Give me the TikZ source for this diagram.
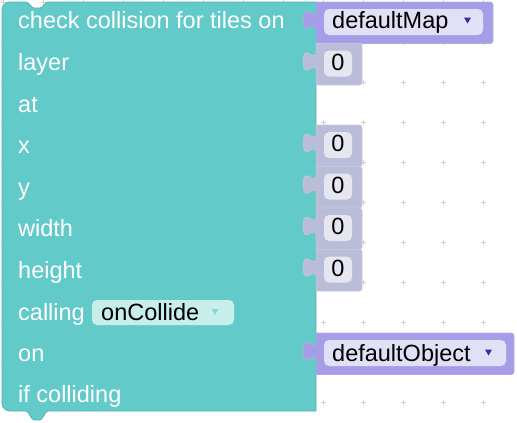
\documentclass[tikz,border=0pt]{standalone}
\usepackage{fontspec}
\setmainfont{Liberation Sans}
\usetikzlibrary{positioning}
\definecolor{colorblock}      {RGB}{99,202,202}
\definecolor{colorblockedge}  {RGB}{84,178,178}
\definecolor{colorblockfield} {RGB}{200,238,236}
\definecolor{colorblockarrow} {RGB}{140,214,214}
\definecolor{colorobject}     {RGB}{165,158,230}
\definecolor{colorobjectfield}{RGB}{226,224,247}
\definecolor{colorobjectarrow}{RGB}{55,40,170}
\definecolor{colornumber}     {RGB}{186,189,215}
\definecolor{colornumberfield}{RGB}{229,230,240}
\definecolor{colorgrid}       {RGB}{208,208,208}

\begin{document}
\begin{tikzpicture}[
    x=1pt, y=-1pt,
    font={\fontsize{23.5}{28}\selectfont},
    label/.style={text=white,anchor=base west,inner sep=0pt},
    value/.style={text=black,anchor=base west,inner sep=0pt},
    number/.style={text=black,anchor=base,inner sep=0pt},
    field/.style={rounded corners=5pt},
    plus/.style={draw=colorgrid,line width=1pt},
]
    \useasboundingbox (0,0) rectangle (517,423);

    % Workspace grid
    \foreach \gx in {3,43,...,483}
        \foreach \gy in {2,42,...,402}
            \draw[plus] (\gx-2.5,\gy) -- (\gx+2.5,\gy) (\gx,\gy-2.5) -- (\gx,\gy+2.5);

    % Main block
    \filldraw[fill=colorblock,draw=colorblockedge,line width=0.8pt]
        (2,10) arc (180:270:8) -- (26,2) .. controls (29,2) and (31,8) .. (34,8) -- (40,8)
        .. controls (43,8) and (45,2) .. (48,2) -- (316,2) -- (316,411) -- (48,411)
        .. controls (45,411) and (43,420) .. (40,420) -- (34,420)
        .. controls (31,420) and (29,411) .. (26,411) -- (10,411) arc (90:180:8) -- cycle;

    % Input blocks
    \foreach \t/\r/\c in {2/493/colorobject, 43.5/362/colornumber, 125/362/colornumber,
                          166.5/362/colornumber, 208/362/colornumber, 249.5/362/colornumber,
                          333/514/colorobject}
        \filldraw[fill=\c,draw=\c!85!white,line width=0.6pt]
            (316,\t+8) .. controls (316,\t+21.3) and (303.2,\t-2.7) .. (303.2,\t+18)
            .. controls (303.2,\t+38.7) and (316,\t+14.7) .. (316,\t+28)
            -- (316,\t+41.5) [rounded corners=2.5pt] -- (\r,\t+41.5) -- (\r,\t)
            [sharp corners] -- (316,\t) -- cycle;

    % Labels
    \node[label] (title)     at (18,28)    {check collision for tiles on};
    \node[label] (layer)     at (18,70)    {layer};
    \node[label] (at)        at (18,112)   {at};
    \node[label] (x)         at (18,153.5) {x};
    \node[label] (y)         at (18,195)   {y};
    \node[label] (width)     at (18,236.5) {width};
    \node[label] (height)    at (18,278)   {height};
    \node[label] (calling)   at (18,320)   {calling};
    \node[label] (on)        at (18,361.5) {on};
    \node[label] (colliding) at (18,402.5) {if colliding};

    % Fields
    \fill[colorblockfield,field] (92,300) rectangle (234,325);
    \node[value] (handler) at (101,320) {onCollide};
    \fill[colorblockarrow] (211.5,309) -- (218.5,309) -- (215,315) -- cycle;

    \fill[colorobjectfield,field] (324,9) rectangle (483,35);
    \node[value] (map) at (332,28) {defaultMap};
    \fill[colorobjectarrow] (464,17.5) -- (471,17.5) -- (467.5,23.5) -- cycle;

    \fill[colorobjectfield,field] (324,340) rectangle (506,366);
    \node[value] (object) at (332,361.5) {defaultObject};
    \fill[colorobjectarrow] (485,349.5) -- (492,349.5) -- (488.5,355.5) -- cycle;

    \foreach \t [count=\i] in {43.5,125,166.5,208,249.5} {
        \fill[colornumberfield,field] (324,\t+7) rectangle (352,\t+33);
        \node[number] (zero\i) at (338,\t+26.5) {0};
    }

\end{tikzpicture}
\end{document}
